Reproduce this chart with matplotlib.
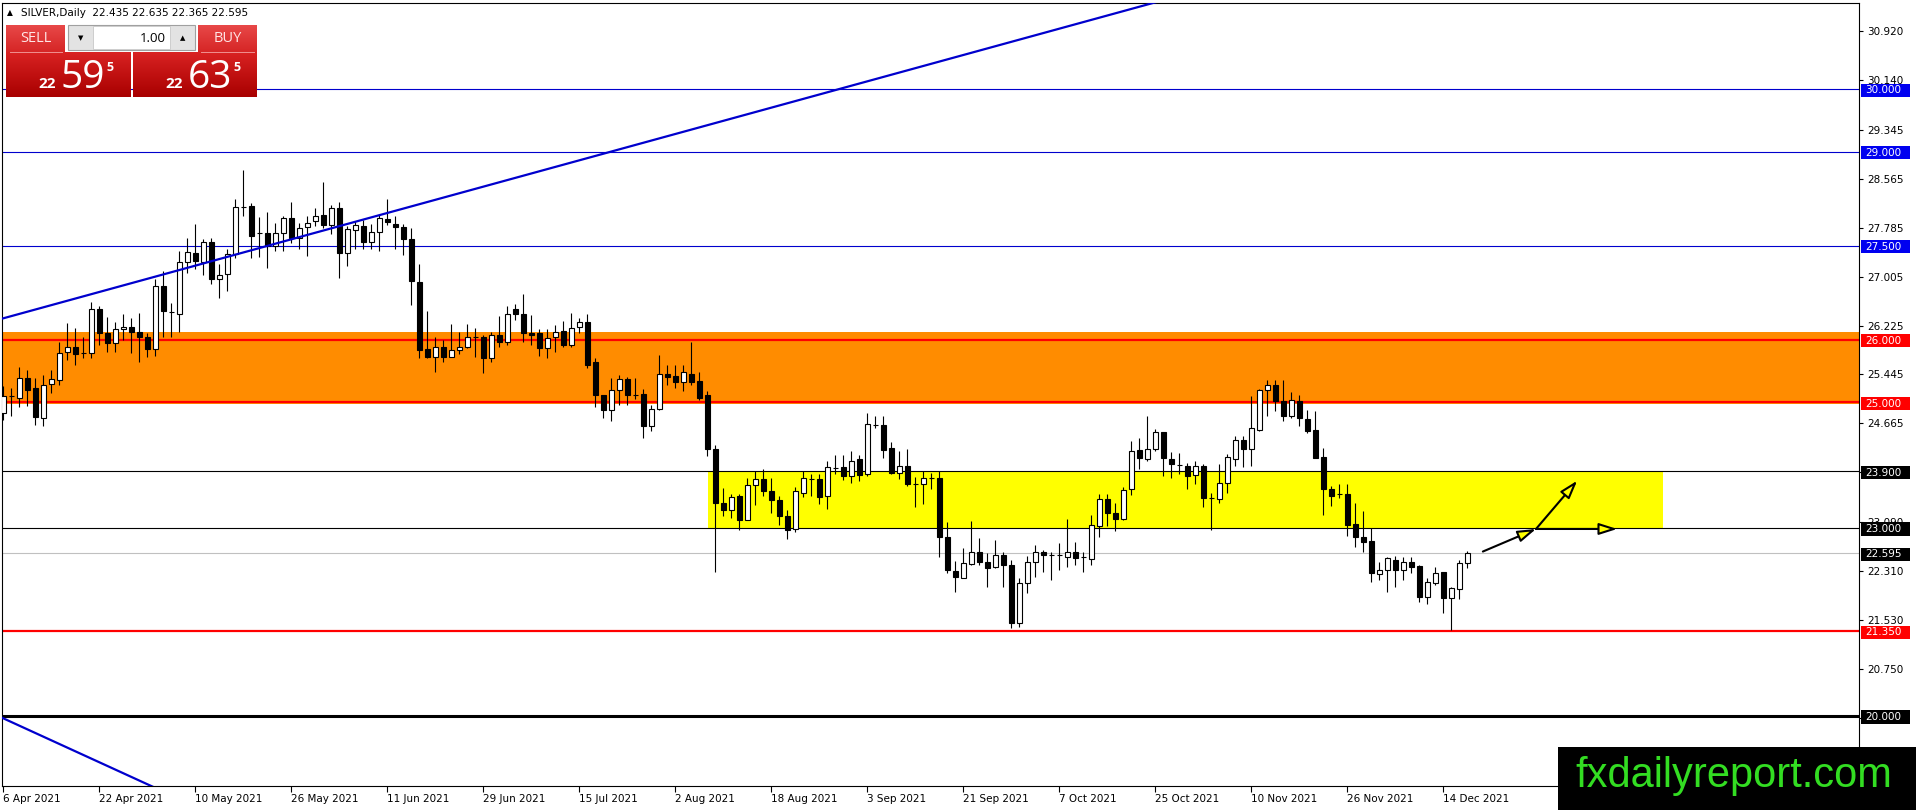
import matplotlib
matplotlib.use('Agg')
import matplotlib.pyplot as plt
import matplotlib.patches as mpatches
import matplotlib.transforms as mtransforms
from matplotlib.colors import LinearSegmentedColormap
import numpy as np
import pandas as pd

# daily OHLC, SILVER, 6 Apr 2021 .. 17 Dec 2021
opens = [24.83, 25.10, 25.07, 25.39, 25.23, 24.75, 25.29, 25.35, 25.80, 25.88, 25.79, 25.79,
         26.49, 26.11, 25.94, 26.17, 26.20, 26.12, 26.04, 25.85, 26.85, 26.44, 26.41, 27.24,
         27.38, 27.24, 27.56, 26.97, 27.04, 27.36, 28.11, 28.13, 27.70, 27.70, 27.50, 27.70,
         27.94, 27.62, 27.79, 27.90, 27.99, 27.83, 28.10, 27.38, 27.75, 27.82, 27.55, 27.71,
         27.93, 27.85, 27.80, 27.61, 26.92, 25.85, 25.73, 25.89, 25.73, 25.84, 25.88, 26.04,
         26.04, 25.70, 26.07, 25.96, 26.49, 26.41, 26.11, 26.10, 25.86, 26.04, 26.14, 25.92,
         26.20, 26.28, 25.64, 25.11, 24.87, 25.19, 25.37, 25.12, 25.13, 24.62, 24.89, 25.45,
         25.42, 25.33, 25.45, 25.34, 25.11, 24.26, 23.39, 23.29, 23.50, 23.12, 23.68, 23.78,
         23.59, 23.45, 23.19, 22.98, 23.56, 23.78, 23.78, 23.50, 23.96, 23.97, 23.83, 24.09,
         23.86, 24.64, 24.64, 24.27, 23.87, 23.99, 23.69, 23.69, 23.79, 23.79, 22.85, 22.31,
         22.20, 22.42, 22.62, 22.45, 22.37, 22.57, 22.41, 21.48, 22.12, 22.46, 22.62, 22.56,
         22.56, 22.54, 22.61, 22.53, 22.50, 23.03, 23.46, 23.24, 23.14, 23.62, 24.24, 24.10,
         24.26, 24.52, 24.10, 24.00, 23.99, 23.84, 23.99, 23.47, 23.46, 23.72, 24.10, 24.40,
         24.26, 24.56, 25.19, 25.27, 25.02, 24.78, 25.02, 24.73, 24.56, 24.13, 23.61, 23.54,
         23.54, 23.06, 22.85, 22.79, 22.26, 22.32, 22.49, 22.33, 22.45, 22.39, 21.89, 22.12,
         22.29, 21.88, 22.02, 22.435]
highs = [25.26, 25.23, 25.57, 25.52, 25.39, 25.44, 25.51, 25.96, 26.27, 26.19, 26.05, 26.60,
         26.54, 26.36, 26.28, 26.41, 26.35, 26.43, 26.10, 26.96, 27.09, 26.59, 27.42, 27.62,
         27.84, 27.61, 27.62, 27.21, 27.45, 28.25, 28.71, 28.18, 27.96, 28.03, 27.86, 27.98,
         28.20, 27.86, 27.98, 28.10, 28.51, 28.15, 28.20, 27.82, 27.90, 27.91, 27.84, 28.00,
         28.24, 27.97, 27.85, 27.78, 27.21, 26.45, 26.04, 25.99, 26.25, 26.12, 26.25, 26.19,
         26.08, 26.12, 26.37, 26.53, 26.57, 26.73, 26.40, 26.17, 26.17, 26.24, 26.30, 26.43,
         26.35, 26.41, 25.71, 25.12, 25.39, 25.43, 25.41, 25.39, 25.21, 24.96, 25.76, 25.60,
         25.60, 25.60, 25.97, 25.48, 25.18, 24.32, 23.64, 23.54, 23.53, 23.79, 23.91, 23.94,
         23.79, 23.50, 23.29, 23.65, 23.91, 23.86, 23.85, 24.07, 24.16, 24.16, 24.23, 24.16,
         24.83, 24.79, 24.79, 24.37, 24.23, 24.26, 23.81, 23.91, 23.87, 23.91, 23.09, 22.47,
         22.68, 23.10, 22.84, 22.60, 22.80, 22.62, 22.49, 22.19, 22.55, 22.73, 22.65, 22.62,
         22.76, 23.14, 22.77, 22.62, 23.20, 23.54, 23.54, 23.40, 23.65, 24.39, 24.43, 24.79,
         24.57, 24.52, 24.21, 24.19, 24.04, 24.06, 24.01, 23.56, 24.01, 24.18, 24.47, 24.46,
         25.10, 25.21, 25.36, 25.35, 25.36, 25.16, 25.12, 24.87, 24.86, 24.27, 23.66, 23.69,
         23.69, 23.39, 23.27, 22.99, 22.45, 22.54, 22.55, 22.54, 22.53, 22.41, 22.19, 22.38,
         22.30, 22.06, 22.49, 22.635]
lows = [24.72, 24.79, 24.93, 24.94, 24.64, 24.63, 25.15, 25.27, 25.68, 25.59, 25.71, 25.70,
        25.92, 25.80, 25.80, 26.00, 25.79, 25.65, 25.73, 25.74, 26.05, 26.05, 26.12, 27.07,
        27.12, 27.03, 26.89, 26.66, 26.77, 27.30, 27.97, 27.30, 27.32, 27.14, 27.41, 27.41,
        27.54, 27.45, 27.34, 27.81, 27.78, 27.68, 26.98, 27.17, 27.44, 27.45, 27.45, 27.41,
        27.83, 27.44, 27.35, 26.56, 25.71, 25.71, 25.49, 25.64, 25.72, 25.77, 25.87, 25.73,
        25.47, 25.64, 25.89, 25.92, 26.32, 25.96, 25.92, 25.74, 25.71, 25.81, 25.88, 25.88,
        26.11, 25.54, 24.93, 24.75, 24.70, 24.95, 24.95, 25.05, 24.43, 24.54, 24.88, 25.28,
        25.23, 25.18, 25.27, 25.03, 24.14, 22.30, 23.18, 23.15, 22.96, 23.12, 23.37, 23.51,
        23.23, 23.04, 22.82, 22.93, 23.49, 23.51, 23.38, 23.30, 23.86, 23.76, 23.71, 23.74,
        23.82, 24.59, 24.11, 23.86, 23.78, 23.67, 23.33, 23.38, 23.61, 22.54, 22.28, 21.97,
        22.19, 22.41, 22.41, 22.05, 22.36, 22.05, 21.40, 21.41, 21.96, 22.22, 22.30, 22.16,
        22.33, 22.37, 22.41, 22.29, 22.41, 22.85, 23.02, 22.95, 23.12, 23.52, 23.94, 24.06,
        24.23, 23.82, 23.79, 23.86, 23.61, 23.69, 23.33, 22.96, 23.39, 23.56, 23.99, 23.97,
        23.99, 24.54, 24.79, 24.86, 24.71, 24.75, 24.62, 24.51, 24.11, 23.21, 23.34, 23.47,
        22.86, 22.70, 22.62, 22.13, 22.16, 21.98, 22.06, 22.17, 22.27, 21.81, 21.78, 22.09,
        21.64, 21.37, 21.86, 22.365]
closes = [25.10, 25.10, 25.39, 25.20, 24.77, 25.28, 25.37, 25.79, 25.89, 25.77, 25.79, 26.49,
          26.11, 25.95, 26.17, 26.20, 26.12, 26.04, 25.85, 26.86, 26.45, 26.44, 27.24, 27.40,
          27.25, 27.56, 26.97, 27.03, 27.36, 28.11, 28.11, 27.66, 27.70, 27.50, 27.70, 27.94,
          27.62, 27.78, 27.86, 27.97, 27.83, 28.10, 27.38, 27.76, 27.83, 27.55, 27.72, 27.94,
          27.87, 27.79, 27.60, 26.93, 25.83, 25.73, 25.89, 25.73, 25.83, 25.88, 26.04, 26.04,
          25.70, 26.07, 25.96, 26.41, 26.41, 26.11, 26.07, 25.86, 26.03, 26.12, 25.92, 26.19,
          26.28, 25.60, 25.11, 24.87, 25.19, 25.37, 25.11, 25.12, 24.63, 24.89, 25.45, 25.41,
          25.33, 25.48, 25.32, 25.07, 24.26, 23.39, 23.28, 23.49, 23.12, 23.68, 23.78, 23.58,
          23.45, 23.18, 22.96, 23.58, 23.79, 23.78, 23.49, 23.97, 23.96, 23.82, 24.07, 23.84,
          24.65, 24.64, 24.24, 23.87, 23.99, 23.69, 23.69, 23.79, 23.79, 22.85, 22.32, 22.21,
          22.44, 22.62, 22.45, 22.36, 22.57, 22.41, 21.48, 22.12, 22.46, 22.62, 22.56, 22.56,
          22.56, 22.62, 22.52, 22.53, 23.04, 23.46, 23.23, 23.14, 23.60, 24.23, 24.11, 24.26,
          24.53, 24.11, 24.02, 24.00, 23.82, 23.99, 23.47, 23.47, 23.72, 24.13, 24.40, 24.26,
          24.59, 25.20, 25.27, 25.02, 24.78, 25.03, 24.75, 24.55, 24.12, 23.61, 23.51, 23.54,
          23.05, 22.85, 22.78, 22.28, 22.33, 22.51, 22.33, 22.45, 22.37, 21.90, 22.13, 22.28,
          21.88, 22.04, 22.44, 22.595]

first_day = '2021-04-06'
tick_step = 12

# horizontal levels drawn on the chart
levels = [30.0, 29.0, 27.5, 26.0, 25.0, 23.9, 23.0, 22.595, 21.35, 20.0]
line_colors = ['#0000CD', '#0000CD', '#0000CD', '#FF0000', '#FF0000',
               '#000000', '#000000', '#C0C0C0', '#FF0000', '#000000']
line_widths = [0.8, 0.8, 0.8, 1.6, 1.6, 0.8, 0.8, 0.8, 1.6, 2.2]
box_colors = ['#0000F0', '#0000F0', '#0000F0', '#FF0000', '#FF0000',
              '#000000', '#000000', '#000000', '#FF0000', '#000000']

orange_zone = (24.98, 26.12)
yellow_zone = (22.99, 23.90)
yellow_bars = (88.1, 207.5)

trend_up = [(0, 26.34), (48, 28.02)]
trend_down = [(0, 19.96), (18.5, 18.88)]
arrows = [((184.96, 22.62), (191.6, 22.98)),
          ((191.6, 22.98), (196.75, 23.75)),
          ((191.6, 22.98), (201.75, 22.98))]

ytick_values = [30.920, 30.140, 29.345, 28.565, 27.785, 27.005, 26.225, 25.445,
                24.665, 23.885, 23.090, 22.310, 21.530, 20.750, 19.970]

W, H = 1916, 810
fig = plt.figure(figsize=(W / 100, H / 100), dpi=100)
fig.patch.set_facecolor('white')
ax_l, ax_r, ax_t, ax_b = 2, 1859, 3, 786
ax = fig.add_axes([ax_l / W, (H - ax_b) / H, (ax_r - ax_l) / W, (ax_b - ax_t) / H])
axw = ax_r - ax_l

o = np.array(opens)
h = np.array(highs)
l = np.array(lows)
c = np.array(closes)
n = len(o)
x = np.arange(n)

# zones
ax.axhspan(*orange_zone, color='#FF8C00', lw=0, zorder=0.5)
ax.add_patch(mpatches.Rectangle((yellow_bars[0], yellow_zone[0]),
                                yellow_bars[1] - yellow_bars[0],
                                yellow_zone[1] - yellow_zone[0],
                                fc='#FFFF00', ec='none', zorder=0.6))

for lv, lc, lw in zip(levels, line_colors, line_widths):
    ax.axhline(lv, color=lc, lw=lw, zorder=1)

# candles
up = c >= o
ax.vlines(x, l, h, color='black', lw=0.8, zorder=3)
ax.bar(x, np.abs(c - o), bottom=np.minimum(o, c), width=0.6,
       color=np.where(up, 'white', 'black'), edgecolor='black', linewidth=0.8, zorder=4)

# trend lines
xs = np.array([-2, 260])
for (x0, y0), (x1, y1) in [trend_up, trend_down]:
    k = (y1 - y0) / (x1 - x0)
    ax.plot(xs, y0 + k * (xs - x0), color='#0000CD', lw=1.6, zorder=5)

for a, b in arrows:
    ax.add_patch(mpatches.FancyArrowPatch(a, b, arrowstyle='-|>,head_length=11,head_width=3.5',
                                          mutation_scale=1, fc='#FFFF00', ec='black', lw=1.5,
                                          shrinkA=0, shrinkB=0, zorder=6))

ax.set_xlim(-0.15, (ax_r - ax_l) / 8 - 0.15)
ax.set_ylim(18.88, 31.37)

# date axis
dates = pd.bdate_range(first_day, periods=n)
xt = list(range(0, n, tick_step))
ax.set_xticks(xt)
ax.set_xticklabels([f'{dates[i].day} {dates[i].strftime("%b %Y")}' for i in xt],
                   fontsize=7.5, ha='left')
shift = mtransforms.ScaledTranslation(2 / 72, 0, fig.dpi_scale_trans)
for lbl in ax.get_xticklabels():
    lbl.set_transform(lbl.get_transform() + shift)
ax.tick_params(axis='x', direction='out', length=4, width=0.8, pad=1.5)

# price axis
ax.yaxis.tick_right()
ax.set_yticks(ytick_values)
ax.set_yticklabels([f'{v:.3f}' for v in ytick_values], fontsize=7.5)
ax.tick_params(axis='y', direction='out', length=3, width=0.8, pad=3)
for sp in ax.spines.values():
    sp.set_linewidth(0.8)
    sp.set_color('black')

ytr = ax.get_yaxis_transform()
for lv, bc in zip(levels, box_colors):
    ax.add_patch(mpatches.Rectangle((1 + 2 / axw, lv - 0.125), 49 / axw, 0.21, transform=ytr,
                                    fc=bc, ec='none', clip_on=False, zorder=10))
    ax.text(1 + 6 / axw, lv - 0.02, f'{lv:.3f}', transform=ytr, color='white', fontsize=7.5,
            va='center', ha='left', clip_on=False, zorder=11)

# overlay in pixel coordinates: trade panel, header, watermark
ov = fig.add_axes([0, 0, 1, 1], zorder=10)
ov.axis('off')
ov.patch.set_alpha(0)


def grad_box(x0, y0, x1, y1, top, bottom):
    cm = LinearSegmentedColormap.from_list('g', [top, bottom])
    ov.imshow(np.linspace(0, 1, 64)[:, None], cmap=cm, extent=(x0, x1, y1, y0),
              origin='upper', aspect='auto', interpolation='bilinear', zorder=2)


ov.text(10, 13, '\u25B2', fontsize=5.5, ha='center', va='center')
ov.text(21, 13.5, 'SILVER,Daily  22.435 22.635 22.365 22.595', fontsize=7.5,
        ha='left', va='center')

grad_box(6, 25, 65, 52, '#E84848', '#D62626')
grad_box(198, 25, 257, 52, '#E84848', '#D62626')
grad_box(6, 52, 131, 97, '#D92222', '#A80000')
grad_box(133, 52, 257, 97, '#D92222', '#A80000')
ov.plot([10, 62], [52, 52], color='#F09090', lw=0.7, zorder=3)
ov.plot([201, 254], [52, 52], color='#F09090', lw=0.7, zorder=3)
ov.text(35.5, 39, 'SELL', color='#FFE6E6', fontsize=10.5, family='Open Sans',
        ha='center', va='center', zorder=4)
ov.text(227.5, 39, 'BUY', color='#FFE6E6', fontsize=10.5, family='Open Sans',
        ha='center', va='center', zorder=4)

ov.add_patch(mpatches.Rectangle((68, 25), 127, 25, fc='#E3E3E3', ec='#A0A0A0', lw=0.8, zorder=2))
ov.add_patch(mpatches.Rectangle((93, 26), 77, 23, fc='white', ec='#C8C8C8', lw=0.6, zorder=3))
ov.text(80.5, 38, '\u25BC', fontsize=5, ha='center', va='center', zorder=4)
ov.text(182.5, 38, '\u25B2', fontsize=5, ha='center', va='center', zorder=4)
ov.text(166, 38, '1.00', fontsize=9.5, ha='right', va='center', family='Open Sans', zorder=4)

for x0, big in [(38, '59'), (165, '63')]:
    ov.text(x0, 88, '22', color='white', fontsize=11, fontweight='bold',
            family='Open Sans', ha='left', va='baseline', zorder=4)
    ov.text(x0 + 23, 88, big, color='white', fontsize=28, family='Open Sans',
            ha='left', va='baseline', zorder=4)
    ov.text(x0 + 68, 71, '5', color='white', fontsize=9, fontweight='bold',
            family='Open Sans', ha='left', va='baseline', zorder=4)

ov.add_patch(mpatches.Rectangle((1558, 747), W - 1558, H - 747, fc='black', ec='none', zorder=5))
ov.text(1575, 787, 'fxdailyreport.com', color='#33DD22', fontsize=30,
        family='Liberation Sans', ha='left', va='baseline', zorder=6)

ov.set_xlim(0, W)
ov.set_ylim(H, 0)

fig.savefig('out.png', dpi=100, facecolor='white')
